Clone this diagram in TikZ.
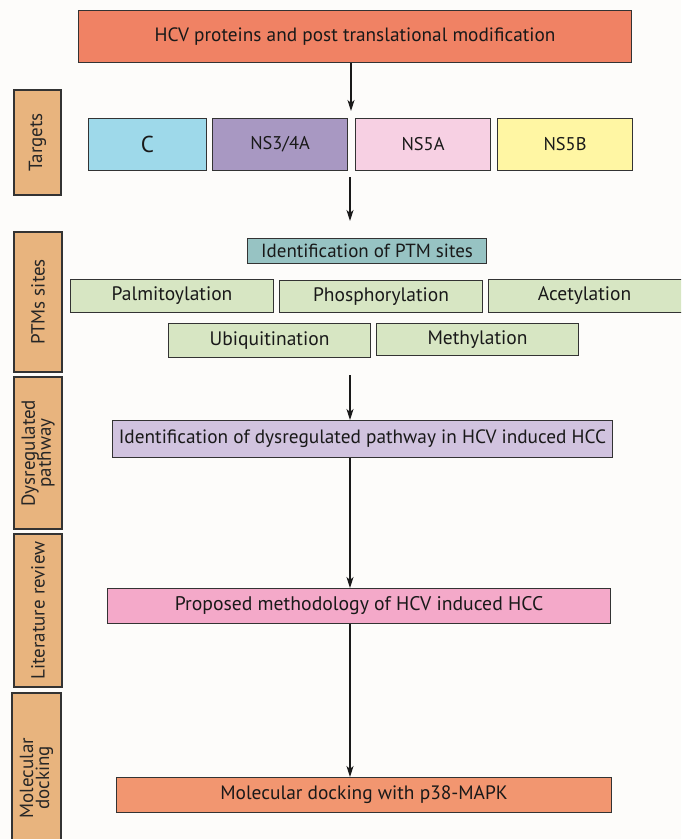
\documentclass[tikz,border=0pt]{standalone}
\usepackage{fontspec}
\setmainfont{PT Sans}
\newfontfamily\sidefont{PT Sans}
\usetikzlibrary{arrows.meta}
\definecolor{bgc}{HTML}{FDFCFA}
\definecolor{topc}{HTML}{F08264}
\definecolor{dockc}{HTML}{F29670}
\definecolor{cc}{HTML}{9ED9EA}
\definecolor{nsthree}{HTML}{A898C2}
\definecolor{nsfivea}{HTML}{F7D0E3}
\definecolor{nsfiveb}{HTML}{FFF6A3}
\definecolor{ptmc}{HTML}{97C3C3}
\definecolor{greenc}{HTML}{D7E6C3}
\definecolor{dysc}{HTML}{D1C3DF}
\definecolor{propc}{HTML}{F4A9C9}
\definecolor{sidec}{HTML}{E8B47E}
\definecolor{edgec}{HTML}{333333}
\tikzset{
  boxst/.style={draw=edgec, line width=1.1pt, inner sep=0pt, anchor=north west, text=black!90},
  sidest/.style={draw=edgec, line width=1.1pt, inner sep=0pt, fill=sidec, rotate=90, align=center, font=\sidefont\fontsize{19}{19}\selectfont, text=black!85},
  arr/.style={line width=1.1pt, draw=black!90, -{Stealth[length=11pt,width=7pt,inset=3pt]}}
}
\newcommand{\bx}[7]{% name, x1, y1, x2, y2, fill, text
  \node[boxst, fill=#6, minimum width={#4pt-#2pt}, minimum height={#5pt-#3pt}] (#1) at (#2,#3) {#7};}
\begin{document}
\begin{tikzpicture}[x=1pt,y=-1pt]
\useasboundingbox (0,0) rectangle (681,839);
\clip (0,0) rectangle (681,839);
\fill[bgc] (0,0) rectangle (681,839);
% main boxes
\bx{top}{78}{10}{631}{62}{topc}{\fontsize{19.3}{20}\selectfont HCV proteins and post translational modification}
\bx{c}{88}{118}{206}{170}{cc}{\fontsize{23}{24}\selectfont C}
\bx{ns3}{212}{118}{347}{170}{nsthree}{\fontsize{18.4}{18}\selectfont NS3/4A}
\bx{ns5a}{355}{118}{490}{170}{nsfivea}{\fontsize{18.4}{18}\selectfont NS5A}
\bx{ns5b}{497}{118}{632}{170}{nsfiveb}{\fontsize{18.4}{18}\selectfont NS5B}
\bx{ptm}{247}{238}{486}{263}{ptmc}{\fontsize{19}{20}\selectfont Identification of PTM sites}
\bx{palm}{70}{279}{273}{312}{greenc}{\fontsize{19.5}{18}\selectfont Palmitoylation}
\bx{phos}{279}{280}{482}{312}{greenc}{\fontsize{19.5}{18}\selectfont Phosphorylation}
\bx{acet}{488}{279}{694}{312}{greenc}{\fontsize{19.5}{18}\selectfont\hspace*{-14pt}Acetylation}
\bx{ubiq}{168}{323}{370}{357}{greenc}{\fontsize{19.5}{18}\selectfont Ubiquitination}
\bx{meth}{376}{323}{578}{355}{greenc}{\fontsize{19.5}{18}\selectfont Methylation}
\bx{dys}{112}{420}{612}{457}{dysc}{\fontsize{19.3}{20}\selectfont Identification of dysregulated pathway in HCV induced HCC}
\bx{prop}{107}{588}{610}{623}{propc}{\fontsize{19.7}{20}\selectfont Proposed methodology of HCV induced HCC}
\bx{dock}{116}{777}{611}{812}{dockc}{\fontsize{19.4}{20}\selectfont Molecular docking with p38-MAPK}
% side labels
\node[sidest, minimum width=105pt, minimum height=47pt] (sTargets) at (37.5,142.5) {Targets};
\node[sidest, minimum width=140pt, minimum height=48pt] (sPTM) at (38,302) {PTMs sites};
\node[sidest, minimum width=152pt, minimum height=48pt] (sDys) at (38,453) {Dysregulated\\[-3pt]pathway};
\node[sidest, minimum width=153pt, minimum height=48pt] (sLit) at (38,610.5) {Literature review};
\node[sidest, minimum width=170pt, minimum height=49pt] (sMol) at (36.5,778) {Molecular\\[-3pt]docking};
% arrows
\coordinate (a1e) at (351,111);
\coordinate (a2s) at (350,177);
\coordinate (a2e) at (350,221);
\coordinate (a3s) at (350,375);
\draw[arr] (top.south -| a1e) -- (a1e);
\draw[arr] (a2s) -- (a2e);
\draw[arr] (a3s) -- (dys.north -| a3s);
\draw[arr] (dys.south -| a3s) -- (prop.north -| a3s);
\draw[arr] (prop.south -| a3s) -- (dock.north -| a3s);
\end{tikzpicture}
\end{document}
